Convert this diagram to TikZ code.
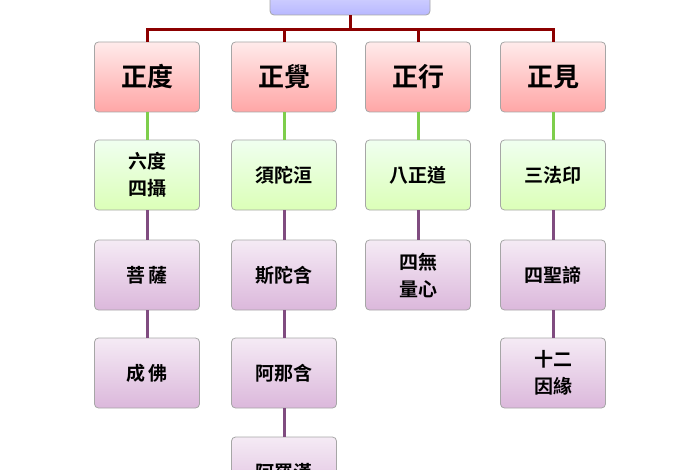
\documentclass[tikz,border=0pt]{standalone}
\usepackage{fontspec}
\newfontfamily\cjk{Noto Sans CJK TC Bold}
\usetikzlibrary{positioning}
\begin{document}
\begin{tikzpicture}[x=1pt,y=-1pt,thick,
    every node/.style={font=\cjk},
    box/.style={draw=gray!70,rounded corners=4pt,minimum width=105pt,align=center,inner sep=2pt},
    head box/.style={box,minimum height=70pt,top color=red!8,bottom color=red!35,font=\cjk\fontsize{26}{28}\selectfont},
    green box/.style={box,minimum height=70pt,top color=green!6,bottom color=green!50!yellow!28,font=\cjk\fontsize{19}{27}\selectfont},
    purple box/.style={box,minimum height=70pt,top color=violet!8,bottom color=violet!28,font=\cjk\fontsize{19}{27}\selectfont},
    red line/.style={draw=red!55!black,line width=3pt},
    green line/.style={draw=green!45!olive!70,line width=3pt},
    purple line/.style={draw=violet!40!gray,line width=3pt}]
  \useasboundingbox (0,0) rectangle (700,470);
  \clip (0,0) rectangle (700,470);
  % top
  \node [box,minimum width=160pt,minimum height=40pt,top color=blue!8,bottom color=blue!28] (root) at (350,-5) {};
  \coordinate (bus) at (350,30);
  % heads
  \node [head box] (du) at (147,77) {正度};
  \node [head box] (jue) at (284,77) {正覺};
  \node [head box] (xing) at (418,77) {正行};
  \node [head box] (jian) at (553,77) {正見};
  % column 1
  \node [green box] (liudu) at (147,175) {六度\\四攝};
  \node [purple box] (pusa) at (147,275) {菩\,薩};
  \node [purple box] (chengfo) at (147,373) {成\,佛};
  % column 2
  \node [green box] (xtuo) at (284,175) {須陀洹};
  \node [purple box] (situo) at (284,275) {斯陀含};
  \node [purple box] (ana) at (284,373) {阿那含};
  \node [purple box] (aluohan) at (284,472) {阿羅漢};
  % column 3
  \node [green box] (bazheng) at (418,175) {八正道};
  \node [purple box] (siwu) at (418,275) {四無\\量心};
  % column 4
  \node [green box] (sanfa) at (553,175) {三法印};
  \node [purple box] (sisheng) at (553,275) {四聖諦};
  \node [purple box] (yinyuan) at (553,373) {十二\\因緣};
  % connectors
  \draw [red line] (root.south) -- (bus);
  \foreach \h in {du,jue,xing,jian}
    \draw [red line] (bus) -| (\h.north);
  \foreach \a/\b in {du/liudu,jue/xtuo,xing/bazheng,jian/sanfa}
    \draw [green line] (\a.south) -- (\b.north);
  \foreach \a/\b in {liudu/pusa,pusa/chengfo,xtuo/situo,situo/ana,ana/aluohan,bazheng/siwu,sanfa/sisheng,sisheng/yinyuan}
    \draw [purple line] (\a.south) -- (\b.north);
\end{tikzpicture}
\end{document}
